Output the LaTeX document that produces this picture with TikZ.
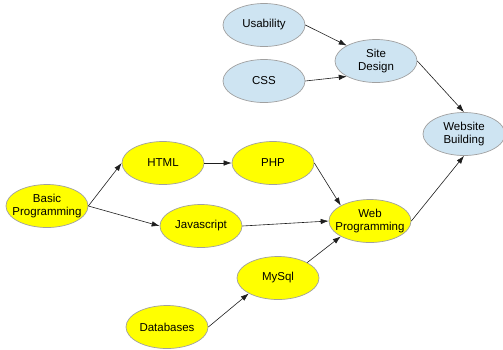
\documentclass[tikz,border=0pt]{standalone}
\usepackage{fontspec}
\setmainfont{Liberation Sans}
\usetikzlibrary{arrows.meta,shapes.geometric}
\definecolor{lblue}{RGB}{206,228,242}
\definecolor{lyellow}{RGB}{255,255,0}
\definecolor{bordergray}{RGB}{160,160,160}
\definecolor{edgegray}{RGB}{30,30,30}
\tikzset{
  topic/.style={ellipse, draw=bordergray, line width=0.7bp, minimum width=82bp, minimum height=43bp, inner xsep=-20bp, inner ysep=0pt, align=center, font=\fontsize{11.5bp}{13bp}\selectfont},
  bluetopic/.style={topic, fill=lblue},
  yellowtopic/.style={topic, fill=lyellow},
  link/.style={draw=edgegray, line width=0.6bp, -{Latex[length=8bp,width=5.5bp]}}
}
\begin{document}
\begin{tikzpicture}[x=1bp,y=-1bp]
\useasboundingbox (0,0) rectangle (503,349);
\node[bluetopic] (usab) at (264,25) {Usability};
\node[bluetopic] (css) at (264,81) {CSS};
\node[bluetopic] (site) at (376,61) {Site\\Design};
\node[bluetopic] (wsb) at (464,134) {Website\\Building};
\node[yellowtopic] (html) at (163,163) {HTML};
\node[yellowtopic] (php) at (273,163) {PHP};
\node[yellowtopic] (bp) at (47,206) {Basic\\Programming};
\node[yellowtopic] (js) at (201,226) {Javascript};
\node[yellowtopic] (web) at (370,221) {Web\\Programming};
\node[yellowtopic] (mysql) at (278,278) {MySql};
\node[yellowtopic] (db) at (167,327) {Databases};
\draw[link] (usab.east) -- (site.north west);
\draw[link] (css.east) -- (site.south west);
\draw[link] (site.east) -- (wsb.north);
\draw[link] (bp.east) -- (html.west);
\draw[link] (bp.east) -- (js.west);
\draw[link] (html.east) -- (php.west);
\draw[link] (php.east) -- (web.north west);
\draw[link] (js.east) -- (web.west);
\draw[link] (mysql.north east) -- (web.south west);
\draw[link] (db.east) -- (mysql.south west);
\draw[link] (web.east) -- (wsb.south);
\end{tikzpicture}
\end{document}
